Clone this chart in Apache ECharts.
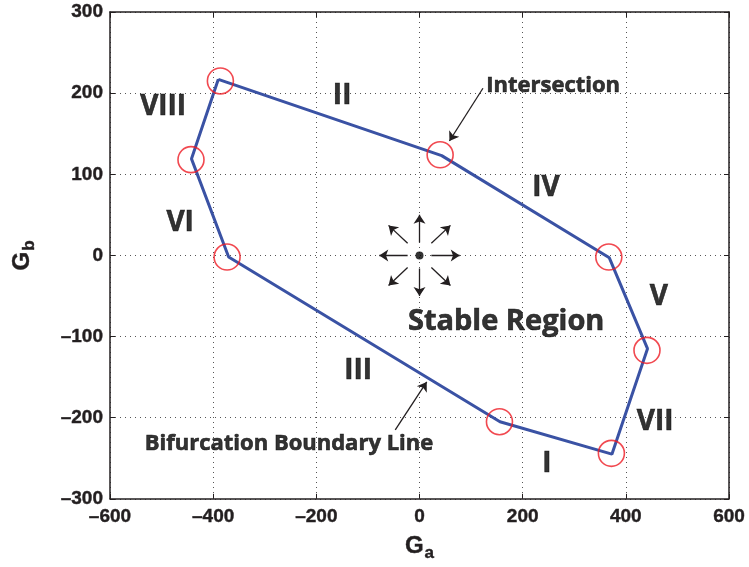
<!DOCTYPE html>
<html>
<head>
<meta charset="utf-8">
<script src="https://cdn.jsdelivr.net/npm/echarts@6/dist/echarts.min.js"></script>
<style>
  html, body { margin: 0; padding: 0; background: #fff; }
  #chart { width: 749px; height: 567px; }
</style>
</head>
<body>
<div id="chart"></div>
<script>
// boundary polygon (G_a, G_b), closed
const boundaryX = [-390, 43, 368, 442, 373, 156, -370, -442, -390];
const boundaryY = [217, 123, -3, -115, -245, -205, -2, 119, 217];

// red circles marking the intersections
const intersectionX = [-386, 40, 367, 441, 372, 155, -373, -443];
const intersectionY = [215, 124, -2, -117, -244, -205, -2, 118];

// region labels
const regionNames = ["I", "II", "III", "IV", "V", "VI", "VII", "VIII"];
const regionX = [247, -150, -119, 245, 464, -464, 457, -497];
const regionY = [-257, 196, -143, 83, -51, 40, -205, 183];

// text notes
const noteTexts = ["Intersection", "Stable Region", "Bifurcation Boundary Line"];
const noteX = [259, 168, -253];
const noteY = [209, -82, -232];
const noteSizes = [22, 29, 22];

// pointer arrows [x0, y0, x1, y1]
const pointerArrows = [
  [123, 206, 58, 141],
  [-47, -215, 14, -156],
];

// arrows radiating from the origin [x0, y0, x1, y1]
const starArrows = [
  [23, 0, 78, 0],
  [-23, 0, -78, 0],
  [0, 16, 0, 50],
  [0, -16, 0, -50],
  [23, 15, 60, 37],
  [-23, 15, -60, 37],
  [23, -15, 60, -37],
  [-23, -15, -60, -37],
];

const xTicks = [-600, 600, 200];
const yTicks = [-300, 300, 100];

const chart = echarts.init(document.getElementById("chart"));

const textFont = "'Open Sans', 'Noto Sans', sans-serif";
const axisFont = "'Liberation Sans', Arial, sans-serif";
const dashLabel = (v) => String(v).replace("-", "\u2013");

const boxAxis = {
  axisLine: { show: true, onZero: false, lineStyle: { color: "#231f20", width: 1.5 } },
  axisTick: { show: true, inside: true, length: 5, lineStyle: { color: "#231f20" } },
  axisLabel: { show: false },
  splitLine: { show: false },
};

const heavy = { textBorderColor: "#231f20", textBorderWidth: 0.4 };

const axisName = (sub) => ({
  name: `{g|G}{s|${sub}}`,
  nameLocation: "middle",
  nameTextStyle: {
    rich: {
      g: { fontFamily: axisFont, fontWeight: "bold", fontSize: 24, color: "#231f20", ...heavy },
      s: { fontFamily: axisFont, fontWeight: "bold", fontSize: 17, color: "#231f20", padding: [14, 0, 0, 1], ...heavy },
    },
  },
});

const tickLabel = {
  color: "#231f20", fontFamily: axisFont, fontWeight: "bold", fontSize: 19, formatter: dashLabel, ...heavy,
};

const textLabel = {
  show: true,
  position: "inside",
  formatter: "{b}",
  fontFamily: textFont,
  fontWeight: "bold",
  color: "#000",
  textBorderColor: "#000",
  textBorderWidth: 0.6,
};

chart.setOption({
  animation: false,
  backgroundColor: "#fff",
  grid: { left: 110, right: 20, top: 12, bottom: 66 },
  xAxis: [
    {
      type: "value",
      min: xTicks[0],
      max: xTicks[1],
      interval: xTicks[2],
      position: "bottom",
      axisLine: { show: true, onZero: false, lineStyle: { color: "#231f20", width: 1.5 } },
      axisTick: { show: true, inside: true, length: 5, lineStyle: { color: "#231f20" } },
      axisLabel: { ...tickLabel, margin: 8 },
      splitLine: { show: true, lineStyle: { color: "#555", type: [1, 4], width: 1 } },
      ...axisName("a"),
      nameGap: 32,
    },
    { type: "value", min: xTicks[0], max: xTicks[1], interval: xTicks[2], position: "top", ...boxAxis },
  ],
  yAxis: [
    {
      type: "value",
      min: yTicks[0],
      max: yTicks[1],
      interval: yTicks[2],
      position: "left",
      axisLine: { show: true, onZero: false, lineStyle: { color: "#231f20", width: 1.5 } },
      axisTick: { show: true, inside: true, length: 5, lineStyle: { color: "#231f20" } },
      axisLabel: { ...tickLabel, margin: 7 },
      splitLine: { show: true, lineStyle: { color: "#555", type: [1, 4], width: 1 } },
      ...axisName("b"),
      nameGap: 72,
    },
    { type: "value", min: yTicks[0], max: yTicks[1], interval: yTicks[2], position: "right", ...boxAxis },
  ],
  series: [
    {
      type: "line",
      data: boundaryX.map((x, i) => [x, boundaryY[i]]),
      symbol: "none",
      lineStyle: { color: "#3a52a4", width: 3 },
      z: 3,
    },
    {
      type: "scatter",
      data: intersectionX.map((x, i) => [x, intersectionY[i]]),
      symbol: "circle",
      symbolSize: 26,
      itemStyle: { color: "rgba(0,0,0,0)", borderColor: "#ed1c24", borderWidth: 1.6 },
      z: 4,
    },
    {
      type: "scatter",
      data: [[0, 0]],
      symbolSize: 8,
      itemStyle: { color: "#000" },
      z: 5,
    },
    {
      type: "lines",
      coordinateSystem: "cartesian2d",
      data: starArrows.concat(pointerArrows).map((a) => ({ coords: [[a[0], a[1]], [a[2], a[3]]] })),
      symbol: ["none", "arrow"],
      symbolSize: 9,
      lineStyle: { color: "#231f20", width: 1.3, opacity: 1 },
      z: 5,
    },
    {
      type: "scatter",
      data: regionX.map((x, i) => ({ value: [x, regionY[i]], name: regionNames[i] })),
      symbolSize: 0,
      label: { ...textLabel, fontSize: 28 },
      z: 6,
    },
    {
      type: "scatter",
      data: noteX.map((x, i) => ({
        value: [x, noteY[i]],
        name: noteTexts[i],
        label: { fontSize: noteSizes[i] },
      })),
      symbolSize: 0,
      label: textLabel,
      z: 6,
    },
  ],
});
</script>
</body>
</html>
